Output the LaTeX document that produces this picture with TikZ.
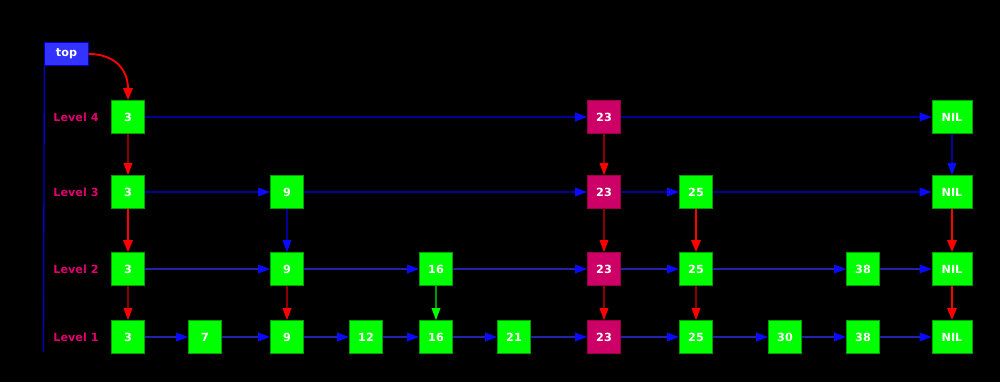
\documentclass[tikz,border=0pt]{standalone}
\usepackage{fontspec}
\setmainfont{DejaVu Sans}
\usetikzlibrary{arrows.meta}
\definecolor{ngreen}{HTML}{00FF00}
\definecolor{ngreenb}{HTML}{00A000}
\definecolor{nmag}{HTML}{CC0066}
\definecolor{nmagb}{HTML}{990044}
\definecolor{lvl}{HTML}{E0006E}
\definecolor{dblue}{HTML}{000099}
\definecolor{mblue}{HTML}{2222AA}
\definecolor{bhead}{HTML}{0A0AFF}
\definecolor{dred}{HTML}{8B0000}
\definecolor{bred}{HTML}{FF0000}
\definecolor{dgreen}{HTML}{009900}
\definecolor{topfill}{HTML}{3333FF}
\definecolor{topbord}{HTML}{0000CC}
\begin{document}
\begin{tikzpicture}[x=0.75pt,y=-0.75pt,
  font=\fontsize{8.4pt}{10pt}\selectfont\bfseries,
  gbox/.style={draw=ngreenb,fill=ngreen,text=white,minimum width=24.75pt,minimum height=24.75pt,inner sep=0pt,line width=0.6pt},
  nilbox/.style={gbox,minimum width=30pt},
  mbox/.style={gbox,draw=nmagb,fill=nmag},
  lvlab/.style={text=lvl,inner sep=0pt},
  hl/.style={draw=dblue,line width=1pt,-{Triangle[length=9pt,width=6.5pt,color=bhead]}},
  hl1/.style={hl,draw=mblue},
  vdr/.style={draw=dred,line width=1pt,-{Triangle[length=9pt,width=6.5pt,color=bred]}},
  vbr/.style={draw=bred,line width=1.4pt,-{Triangle[length=9pt,width=7pt,color=bred]}},
  vbl/.style={draw=dblue,line width=1pt,-{Triangle[length=9pt,width=6.5pt,color=bhead]}},
  vgr/.style={draw=dgreen,line width=1pt,-{Triangle[length=9pt,width=6.5pt,color=ngreen]}},
]
\fill[black] (0,0) rectangle (1000,382);
\useasboundingbox (0,0) rectangle (1000,382);

% top
\node[draw=topbord,fill=topfill,text=white,minimum width=32.5pt,minimum height=17.5pt,inner sep=0pt,line width=0.8pt] (top) at (66.5,54) {top};
\coordinate (vend) at (43.5,352);
\draw[topbord,line width=1pt] (top.south west) -- (vend);

% level labels
\node[lvlab] (lab4) at (76,117) {Level 4};
\node[lvlab] (lab3) at (76,192) {Level 3};
\node[lvlab] (lab2) at (76,269) {Level 2};
\node[lvlab] (lab1) at (76,337) {Level 1};

% Level 4
\node[gbox] (a4) at (128,117) {3};
\node[mbox] (w4) at (604,117) {23};
\node[nilbox] (n4) at (952,117) {NIL};
% Level 3
\node[gbox] (a3) at (128,192) {3};
\node[gbox] (c3) at (287,192) {9};
\node[mbox] (w3) at (604,192) {23};
\node[gbox] (x3) at (696,192) {25};
\node[nilbox] (n3) at (952,192) {NIL};
% Level 2
\node[gbox] (a2) at (128,269) {3};
\node[gbox] (c2) at (287,269) {9};
\node[gbox] (e2) at (436,269) {16};
\node[mbox] (w2) at (604,269) {23};
\node[gbox] (x2) at (696,269) {25};
\node[gbox] (z2) at (863,269) {38};
\node[nilbox] (n2) at (952,269) {NIL};
% Level 1
\node[gbox] (a1) at (128,337) {3};
\node[gbox] (b1) at (205,337) {7};
\node[gbox] (c1) at (287,337) {9};
\node[gbox] (d1) at (366,337) {12};
\node[gbox] (e1) at (436,337) {16};
\node[gbox] (f1) at (514,337) {21};
\node[mbox] (w1) at (604,337) {23};
\node[gbox] (x1) at (696,337) {25};
\node[gbox] (y1) at (785,337) {30};
\node[gbox] (z1) at (863,337) {38};
\node[nilbox] (n1) at (952,337) {NIL};

% horizontal links
\draw[hl] (a4) -- (w4); \draw[hl] (w4) -- (n4);
\draw[hl] (a3) -- (c3); \draw[hl] (c3) -- (w3); \draw[hl] (w3) -- (x3); \draw[hl] (x3) -- (n3);
\draw[hl1] (a2) -- (c2); \draw[hl1] (c2) -- (e2); \draw[hl1] (e2) -- (w2); \draw[hl1] (w2) -- (x2); \draw[hl1] (x2) -- (z2); \draw[hl1] (z2) -- (n2);
\draw[hl1] (a1) -- (b1); \draw[hl1] (b1) -- (c1); \draw[hl1] (c1) -- (d1); \draw[hl1] (d1) -- (e1); \draw[hl1] (e1) -- (f1);
\draw[hl1] (f1) -- (w1); \draw[hl1] (w1) -- (x1); \draw[hl1] (x1) -- (y1); \draw[hl1] (y1) -- (z1); \draw[hl1] (z1) -- (n1);

% vertical links
\draw[vdr] (a4) -- (a3); \draw[vbr] (a3) -- (a2); \draw[vdr] (a2) -- (a1);
\draw[vbl] (c3) -- (c2); \draw[vdr] (c2) -- (c1);
\draw[vgr] (e2) -- (e1);
\draw[vdr] (w4) -- (w3); \draw[vdr] (w3) -- (w2); \draw[vdr] (w2) -- (w1);
\draw[vbr] (x3) -- (x2); \draw[vdr] (x2) -- (x1);
\draw[vbl] (n4) -- (n3); \draw[vbr] (n3) -- (n2); \draw[vbr] (n2) -- (n1);

% top pointer
\draw[vbr] (top.east) .. controls (115,54) and (128,70) .. (a4.north);
\end{tikzpicture}
\end{document}
